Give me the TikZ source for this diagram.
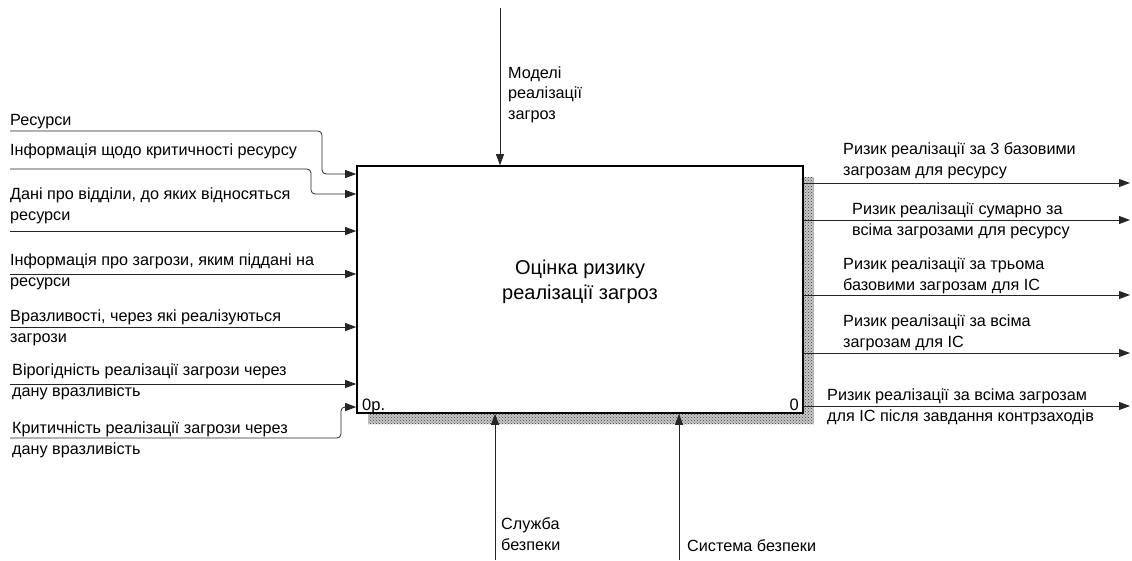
\documentclass[tikz,border=0pt]{standalone}
\usepackage{fontspec}
\setmainfont{Liberation Sans}
\usetikzlibrary{arrows.meta,patterns}

\tikzset{
  lbl/.style={anchor=base west, inner sep=0pt, align=left, font=\fontsize{16.2}{20.5}\selectfont},
  arr/.style={draw=black!85, line width=0.8pt, -{Triangle[length=11pt,width=8pt]}},
  fbox/.style={draw=black, line width=1.6pt, fill=white, minimum width=446pt, minimum height=247pt, inner sep=0pt}
}

\begin{document}
\begin{tikzpicture}[x=1pt,y=-1pt]
    \useasboundingbox (0,0) rectangle (1132,560);

    % shadow and function box
    \fill[black!22] (368,177) rectangle (814,424);
    \fill[pattern=crosshatch dots, pattern color=black!75] (368,177) rectangle (814,424);
    \node[fbox] (fn) at (580,289.5) {};
    \node[align=center, font=\fontsize{20}{25}\selectfont] (title) at (580,282) {Оцінка ризику\\реалізації загроз};
    \node[anchor=base west, inner sep=0pt, font=\fontsize{16.5}{16.5}\selectfont] (num) at (362,410) {0р.};
    \node[anchor=base east, inner sep=0pt, font=\fontsize{16.5}{16.5}\selectfont] (nod) at (799,410) {0};

    % inputs
    \coordinate (i1) at (10,131);
    \coordinate (i2) at (10,169);
    \coordinate (i3) at (10,231);
    \coordinate (i4) at (10,274);
    \coordinate (i5) at (10,327);
    \coordinate (i6) at (10,384);
    \coordinate (i7) at (10,438);
    \draw[arr, rounded corners=4pt] (i1) -| (322,174) -- (fn.west |- 0,174);
    \draw[arr, rounded corners=4pt] (i2) -| (311,194) -- (fn.west |- 0,194);
    \draw[arr] (i3) -- (i3 -| fn.west);
    \draw[arr] (i4) -- (i4 -| fn.west);
    \draw[arr] (i5) -- (i5 -| fn.west);
    \draw[arr] (i6) -- (i6 -| fn.west);
    \draw[arr, rounded corners=4pt] (i7) -| (341,407) -- (fn.west |- 0,407);

    \node[lbl] (l1) at (10,125) {Ресурси};
    \node[lbl] (l2) at (10,155) {Інформація щодо критичності ресурсу};
    \node[lbl] (l3) at (10,220) {Дані про відділи, до яких відносяться\\ресурси};
    \node[lbl] (l4) at (10,286) {Інформація про загрози, яким піддані на\\ресурси};
    \node[lbl] (l5) at (10,342) {Вразливості, через які реалізуються\\загрози};
    \node[lbl] (l6) at (12,396) {Вірогідність реалізації загрози через\\дану вразливість};
    \node[lbl] (l7) at (12,454) {Критичність реалізації загрози через\\дану вразливість};

    % outputs
    \coordinate (o1) at (1130,183);
    \coordinate (o2) at (1130,220);
    \coordinate (o3) at (1130,295);
    \coordinate (o4) at (1130,353);
    \coordinate (o5) at (1130,406);
    \draw[arr] (o1 -| fn.east) -- (o1);
    \draw[arr] (o2 -| fn.east) -- (o2);
    \draw[arr] (o3 -| fn.east) -- (o3);
    \draw[arr] (o4 -| fn.east) -- (o4);
    \draw[arr] (o5 -| fn.east) -- (o5);

    \node[lbl] (r1) at (843,175) {Ризик реалізації за 3 базовими\\загрозам для ресурсу};
    \node[lbl] (r2) at (852,235) {Ризик реалізації сумарно за\\всіма загрозами для ресурсу};
    \node[lbl] (r3) at (843,290) {Ризик реалізації за трьома\\базовими загрозам для ІС};
    \node[lbl] (r4) at (843,347) {Ризик реалізації за всіма\\загрозам для ІС};
    \node[lbl] (r5) at (827,421) {Ризик реалізації за всіма загрозам\\для ІС після завдання контрзаходів};

    % control and mechanisms
    \coordinate (c1) at (500,8);
    \coordinate (m1) at (495,560);
    \coordinate (m2) at (679,560);
    \draw[arr] (c1) -- (c1 |- fn.north);
    \draw[arr] (m1) -- (m1 |- fn.south);
    \draw[arr] (m2) -- (m2 |- fn.south);

    \node[lbl] (t1) at (508,119) {Моделі\\реалізації\\загроз};
    \node[lbl] (b1) at (501,550) {Служба\\безпеки};
    \node[lbl] (b2) at (687,551) {Система безпеки};
\end{tikzpicture}
\end{document}
